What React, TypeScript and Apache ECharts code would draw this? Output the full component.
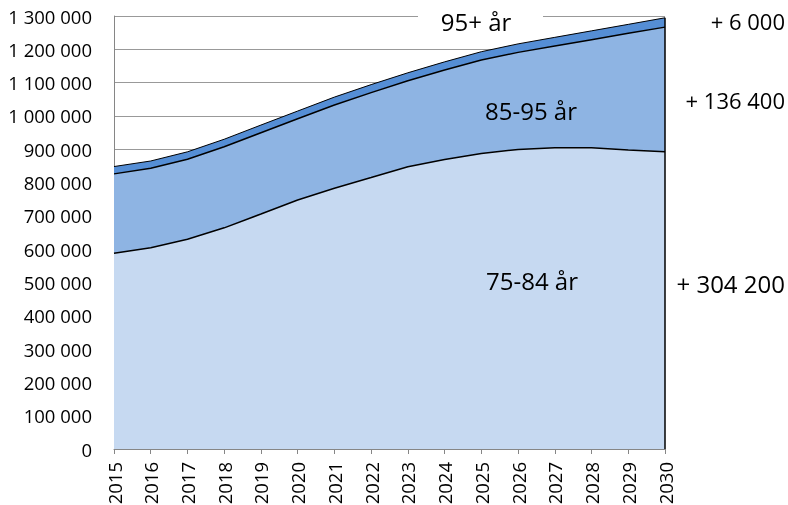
import React, { useEffect, useRef } from "react";
import * as echarts from "echarts";

const years = ["2015", "2016", "2017", "2018", "2019", "2020", "2021", "2022", "2023", "2024", "2025", "2026", "2027", "2028", "2029", "2030"];
const age7584 = [588000, 604000, 629500, 664000, 705500, 747500, 783000, 815000, 847500, 869500, 887500, 899500, 904500, 904500, 897500, 892200];
const age8595 = [238000, 238700, 240200, 243500, 244100, 244100, 250000, 255000, 258000, 268300, 280300, 291300, 305400, 324400, 350400, 374400];
const age95 = [22000, 22000, 22500, 22500, 23000, 23000, 23500, 24000, 24000, 24500, 25000, 25500, 26000, 26500, 27000, 28000];
const seriesNames = ["75-84 år", "85-95 år", "95+ år"];
const colors = ["#C6D9F1", "#8EB4E3", "#558ED5"];

const FONT = "'Open Sans', 'Noto Sans', sans-serif";
const fmt = (v: number) => String(Math.round(v)).replace(/\B(?=(\d{3})+(?!\d))/g, " ");
const change = (arr: number[]) => "+ " + fmt(arr[arr.length - 1] - arr[0]);

export default function App() {
  const ref = useRef<HTMLDivElement>(null);
  useEffect(() => {
    if (!ref.current) return;
    const chart = echarts.init(ref.current, undefined, { renderer: "svg" });
    const data = [age7584, age8595, age95];
    const totals = years.map((_, i) => age7584[i] + age8595[i] + age95[i]);
    const last = years.length - 1;

    const areaSeries = data.map((d, i) => ({
      name: seriesNames[i],
      type: "line",
      stack: "area",
      data: d,
      showSymbol: false,
      symbol: "none",
      lineStyle: { width: 0 },
      areaStyle: { color: colors[i], opacity: 1 },
      silent: true,
      z: 2,
    }));
    const lineSeries = data.map((d, i) => ({
      name: seriesNames[i] + " linje",
      type: "line",
      stack: "lines",
      data: d,
      showSymbol: false,
      symbol: "none",
      lineStyle: { color: "#000", width: i === 2 ? 1 : 1.5 },
      silent: true,
      z: 3,
    }));

    chart.setOption({
      animation: false,
      grid: { left: 114, right: 123, top: 16, bottom: 56, containLabel: false, outerBoundsMode: "none" },
      xAxis: {
        type: "category",
        data: years,
        boundaryGap: false,
        axisLine: { lineStyle: { color: "#868686", width: 1 } },
        axisTick: { show: true, length: 5, lineStyle: { color: "#868686" } },
        axisLabel: { rotate: 90, margin: 13, color: "#000", fontSize: 18.5, fontFamily: FONT, interval: 0 },
      },
      yAxis: {
        type: "value",
        min: 0,
        max: 1300000,
        interval: 100000,
        axisLine: { show: true, lineStyle: { color: "#868686", width: 1 } },
        axisTick: { show: false },
        splitLine: { lineStyle: { color: "#999999", width: 1 } },
        axisLabel: { formatter: (v: number) => fmt(v), color: "#000", fontSize: 18.5, fontFamily: FONT, margin: 22 },
      },
      series: [
        ...areaSeries,
        ...lineSeries,
        {
          name: "kant",
          type: "line",
          data: totals,
          showSymbol: false,
          symbol: "none",
          lineStyle: { opacity: 0 },
          silent: true,
          z: 4,
          markLine: {
            silent: true,
            symbol: "none",
            label: { show: false },
            lineStyle: { color: "#000", width: 1.5, type: "solid" },
            data: [[{ coord: [last, 0] }, { coord: [last, totals[last]] }]],
          },
        },
      ],
      graphic: [
        { type: "rect", shape: { x: 418, y: 4, width: 125, height: 30 }, style: { fill: "#fff" }, z: 10 },
        { type: "text", x: 476, y: 21, style: { text: seriesNames[2], font: `24px ${FONT}`, fill: "#000", align: "center", verticalAlign: "middle" }, z: 11 },
        { type: "text", x: 531, y: 110, style: { text: seriesNames[1], font: `24px ${FONT}`, fill: "#000", align: "center", verticalAlign: "middle" }, z: 11 },
        { type: "text", x: 532, y: 280, style: { text: seriesNames[0], font: `24px ${FONT}`, fill: "#000", align: "center", verticalAlign: "middle" }, z: 11 },
        { type: "text", x: 785, y: 21, style: { text: change(age95), font: `22px ${FONT}`, fill: "#000", align: "right", verticalAlign: "middle" }, z: 11 },
        { type: "text", x: 785, y: 100, style: { text: change(age8595), font: `22px ${FONT}`, fill: "#000", align: "right", verticalAlign: "middle" }, z: 11 },
        { type: "text", x: 785, y: 283, style: { text: change(age7584), font: `24px ${FONT}`, fill: "#000", align: "right", verticalAlign: "middle" }, z: 11 },
      ],
    });
    return () => chart.dispose();
  }, []);
  return <div ref={ref} style={{ position: "fixed", left: 0, top: 0, width: 788, height: 505 }} />;
}
